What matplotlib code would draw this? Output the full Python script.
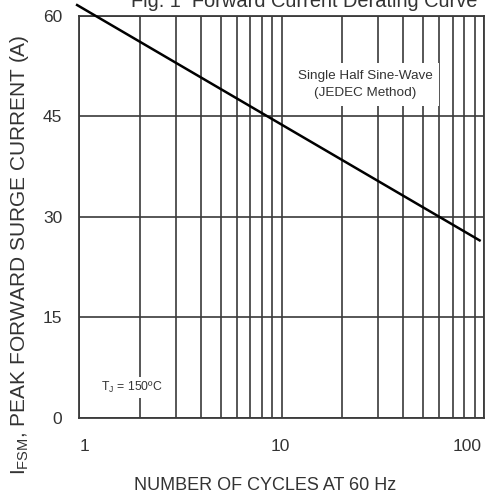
import numpy as np
import matplotlib
matplotlib.use("Agg")
import matplotlib.pyplot as plt
from matplotlib.ticker import LogLocator, FixedLocator, NullFormatter
from matplotlib.transforms import ScaledTranslation

# data
cycles = [0.98, 95]
surge_current = [61.6, 26.5]
y_ticks = [0, 15, 30, 45, 60]
x_ticks = [1, 10, 100]
x_tick_labels = ["1", "10", "100"]

plt.rcParams['font.family'] = ['Liberation Sans', 'DejaVu Sans']
plt.rcParams['mathtext.fontset'] = 'custom'
plt.rcParams['mathtext.rm'] = 'Liberation Sans'
plt.rcParams['mathtext.it'] = 'Liberation Sans'

text_col = '#333333'
grid_col = '#3a3a3a'

fig = plt.figure(figsize=(4.9, 4.93), dpi=100)
ax = fig.add_axes([0.161, 0.152, 0.827, 0.816])

ax.set_xscale('log')
ax.set_xlim(1, 100)
ax.set_ylim(0, 60)

ax.xaxis.set_major_locator(FixedLocator(x_ticks))
ax.set_xticklabels(x_tick_labels)
ax.xaxis.set_minor_locator(LogLocator(base=10, subs=np.arange(2, 10)))
ax.xaxis.set_minor_formatter(NullFormatter())
ax.set_yticks(y_ticks)

ax.grid(True, which='both', axis='x', color=grid_col, lw=1.2)
ax.grid(True, which='major', axis='y', color=grid_col, lw=1.2)
ax.set_axisbelow(True)

for s in ax.spines.values():
    s.set_color(grid_col)
    s.set_linewidth(1.3)

ax.tick_params(which='both', length=0, labelsize=12.5, colors=text_col)
ax.tick_params(axis='x', pad=15)
ax.tick_params(axis='y', pad=12)

# nudge x tick labels like the original drawing
shifts = [4, -1, -12]
for lab, dx in zip(ax.get_xticklabels(), shifts):
    lab.set_transform(lab.get_transform() + ScaledTranslation(dx / 72, 0, fig.dpi_scale_trans))

ax.plot(cycles, surge_current, color='black', lw=1.8, clip_on=False, zorder=5)

ax.set_xlabel('NUMBER OF CYCLES AT 60 Hz', fontsize=13, color=text_col, va='center')
ax.xaxis.set_label_coords(0.459, -0.167)
ax.set_ylabel(r'I$_\mathregular{FSM}$, PEAK FORWARD SURGE CURRENT (A)',
              fontsize=15, color=text_col, va='center')
ax.yaxis.set_label_coords(-0.146, 0.406)

box = dict(facecolor='white', edgecolor='none', pad=5)
ax.text(25.8, 49.8, 'Single Half Sine-Wave\n(JEDEC Method)', ha='center', va='center',
        fontsize=9.7, color=text_col, linespacing=1.55, bbox=box, zorder=4)
ax.text(1.83, 4.6, r'T$_\mathregular{J}$ = 150ºC', ha='center', va='center',
        fontsize=8.8, color=text_col, bbox=dict(facecolor='white', edgecolor='none', pad=2), zorder=4)

fig.text(0.62, 1 - 7 / 493, 'Fig. 1  Forward Current Derating Curve', ha='center',
         va='baseline', fontsize=14.4, color=text_col)

fig.savefig('out.png', dpi=100)
